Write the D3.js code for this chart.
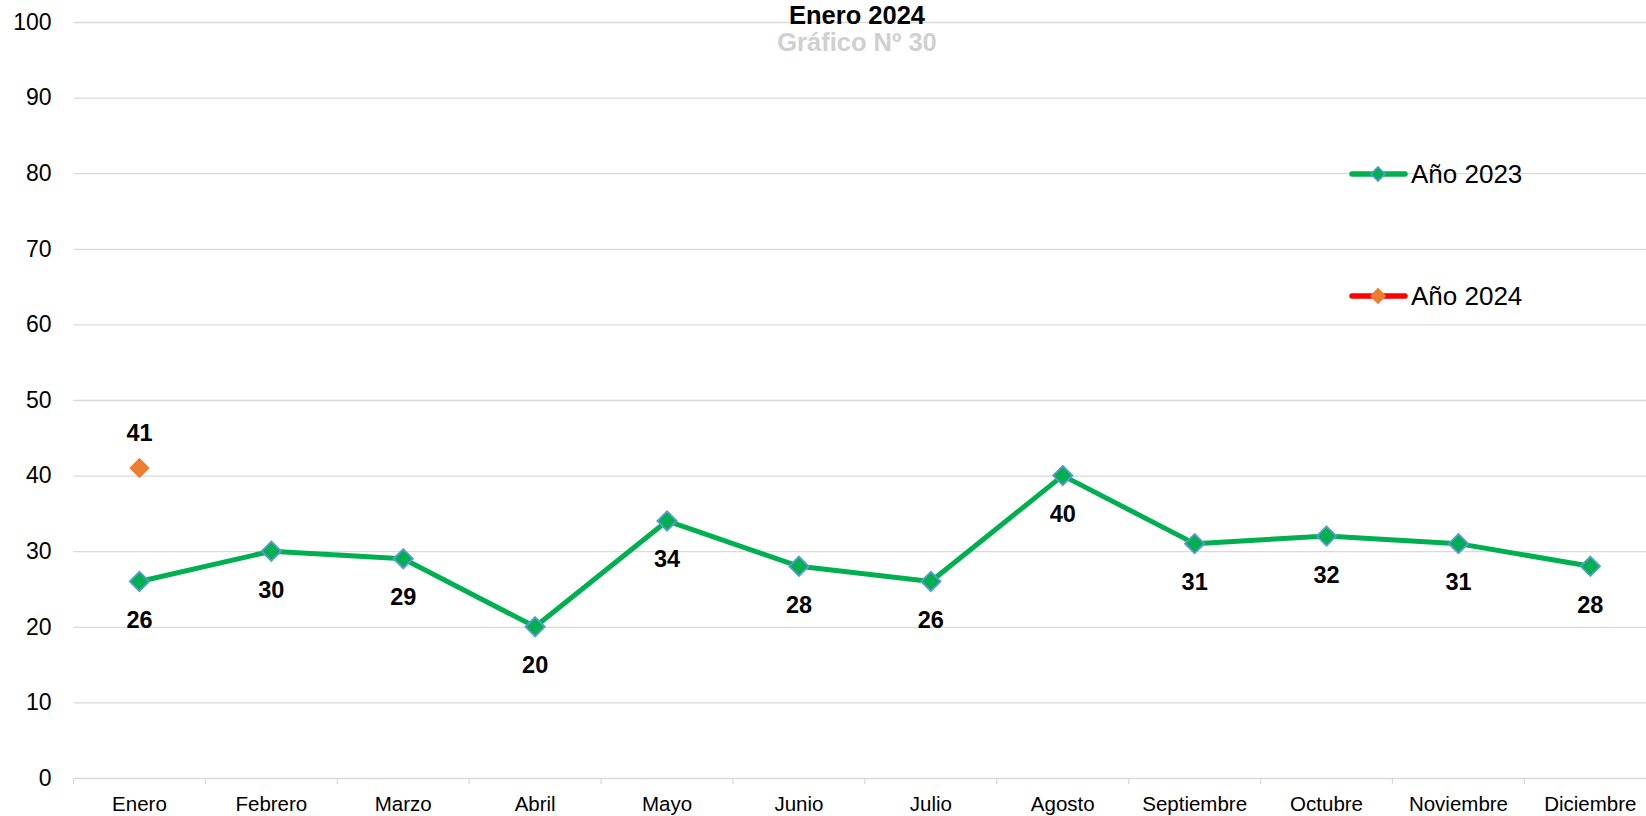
<!DOCTYPE html>
<html>
<head>
<meta charset="utf-8">
<script src="https://cdn.jsdelivr.net/npm/d3@7"></script>
<style>
    body { margin: 0; background: #fff; }
    svg { display: block; font-family: Arial, "Liberation Sans", sans-serif; }
    .grid line { stroke: #d9d9d9; stroke-width: 1.3; }
    .grid text { font-size: 23px; fill: #000; }
    .xaxis text { font-size: 20.5px; fill: #000; }
    .lbl { font-size: 23.5px; font-weight: bold; fill: #000; }
</style>
</head>
<body>
<div id="chart"></div>
<script>
// chart data
const months = ["Enero", "Febrero", "Marzo", "Abril", "Mayo", "Junio", "Julio",
    "Agosto", "Septiembre", "Octubre", "Noviembre", "Diciembre"];
const values2023 = [26, 30, 29, 20, 34, 28, 26, 40, 31, 32, 31, 28];
const values2024 = [41];
const yTicks = [0, 10, 20, 30, 40, 50, 60, 70, 80, 90, 100];
const seriesNames = ["Año 2023", "Año 2024"];

const W = 1646, H = 816;
const plotLeft = 73.5, band = 131.9;
const plotTop = 22, plotBottom = 778;

let svg = d3.select("#chart").append("svg")
    .attr("width", W)
    .attr("height", H);

let x = d3.scaleBand().domain(months).range([plotLeft, plotLeft + band * months.length]);
let y = d3.scaleLinear().domain([0, 100]).range([plotBottom, plotTop]);

// horizontal gridlines + y labels
svg.append("g")
    .attr("class", "grid")
    .attr("transform", `translate(${plotLeft},0)`)
    .call(d3.axisLeft(y).tickValues(yTicks).tickSize(-(W - plotLeft + 20)).tickPadding(22))
    .call(g => g.select(".domain").remove());

// x labels
svg.append("g")
    .attr("class", "xaxis")
    .attr("transform", `translate(0,${plotBottom})`)
    .call(d3.axisBottom(x).tickSize(0).tickPadding(18))
    .call(g => g.select(".domain").remove());

// tick marks on band boundaries
let edges = months.map(m => x(m)).concat([x.range()[1]]);
svg.append("g").selectAll("line")
    .data(edges)
    .join("line")
    .attr("x1", d => d).attr("x2", d => d)
    .attr("y1", plotBottom).attr("y2", plotBottom + 6)
    .attr("stroke", "#d9d9d9")
    .attr("stroke-width", 1.3);

const cx = d => x(d) + x.bandwidth() / 2;
const diamond = d3.symbol().type(d3.symbolDiamond2);

// 2023 line
let line = d3.line()
    .x((d, i) => cx(months[i]))
    .y(d => y(d));

svg.append("path")
    .datum(values2023)
    .attr("d", line)
    .attr("fill", "none")
    .attr("stroke", "#00b050")
    .attr("stroke-width", 5)
    .attr("stroke-linejoin", "round");

svg.append("g").selectAll("path")
    .data(values2023)
    .join("path")
    .attr("d", diamond.size(240))
    .attr("transform", (d, i) => `translate(${cx(months[i])},${y(d)})`)
    .attr("fill", "#00b050")
    .attr("stroke", "#5b9bd5")
    .attr("stroke-width", 1.8);

svg.append("g").selectAll("text")
    .data(values2023)
    .join("text")
    .attr("class", "lbl")
    .attr("x", (d, i) => cx(months[i]))
    .attr("y", d => y(d) + 38)
    .attr("dy", "0.36em")
    .attr("text-anchor", "middle")
    .text(d => d);

// 2024 points
svg.append("g").selectAll("path")
    .data(values2024)
    .join("path")
    .attr("d", diamond.size(240))
    .attr("transform", (d, i) => `translate(${cx(months[i])},${y(d)})`)
    .attr("fill", "#ed7d31")
    .attr("stroke", "#ed7d31")
    .attr("stroke-width", 1);

svg.append("g").selectAll("text")
    .data(values2024)
    .join("text")
    .attr("class", "lbl")
    .attr("x", (d, i) => cx(months[i]))
    .attr("y", d => y(d) - 36)
    .attr("dy", "0.36em")
    .attr("text-anchor", "middle")
    .text(d => d);

// titles
svg.append("text")
    .attr("x", 857).attr("y", 24)
    .attr("text-anchor", "middle")
    .attr("font-size", "25.5px")
    .attr("font-weight", "bold")
    .attr("fill", "#000")
    .text("Enero 2024");

svg.append("text")
    .attr("x", 857).attr("y", 51)
    .attr("text-anchor", "middle")
    .attr("font-size", "25.5px")
    .attr("font-weight", "bold")
    .attr("fill", "#d0d0d0")
    .text("Gráfico Nº 30");

// legend
let legend = [
    {name: seriesNames[0], line: "#00b050", fill: "#00b050", stroke: "#5b9bd5", y: 174},
    {name: seriesNames[1], line: "#ff0000", fill: "#ed7d31", stroke: "#ed7d31", y: 296}
];
let lg = svg.append("g").selectAll("g")
    .data(legend)
    .join("g")
    .attr("transform", d => `translate(0,${d.y})`);

lg.append("line")
    .attr("x1", 1352).attr("x2", 1405)
    .attr("stroke", d => d.line)
    .attr("stroke-width", 5.5)
    .attr("stroke-linecap", "round");

lg.append("path")
    .attr("d", diamond.size(130))
    .attr("transform", "translate(1378,0)")
    .attr("fill", d => d.fill)
    .attr("stroke", d => d.stroke)
    .attr("stroke-width", 1.5);

lg.append("text")
    .attr("x", 1411)
    .attr("dy", "0.36em")
    .attr("font-size", "26px")
    .attr("fill", "#000")
    .text(d => d.name);
</script>
</body>
</html>
